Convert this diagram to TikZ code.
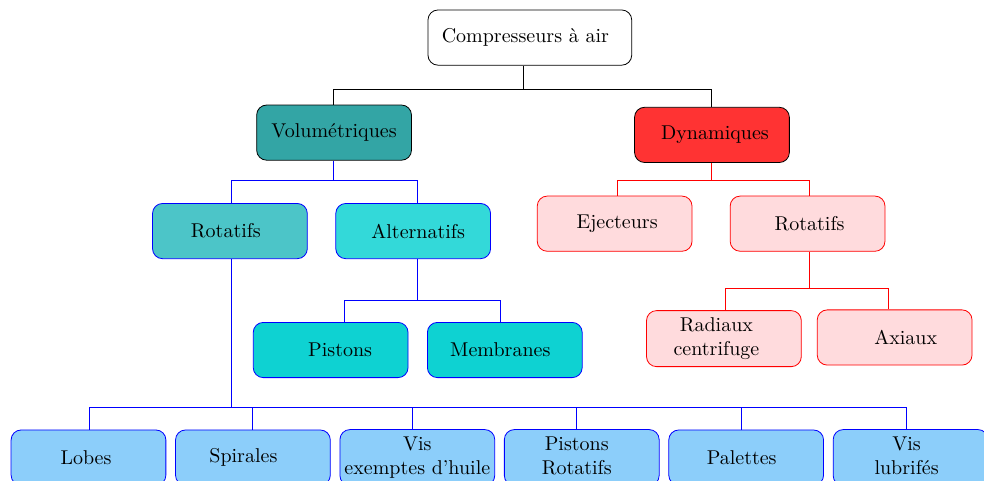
\documentclass[tikz,border=0pt]{standalone}
\usepackage{fontspec}
\definecolor{volcol}{RGB}{51,165,165}
\definecolor{rotcol}{RGB}{76,197,200}
\definecolor{altcol}{RGB}{51,217,217}
\definecolor{piscol}{RGB}{14,210,210}
\definecolor{skycol}{RGB}{140,206,250}
\definecolor{dyncol}{RGB}{255,51,51}
\definecolor{pinkcol}{RGB}{255,219,221}
\newcommand{\deuxl}[2]{\begin{tabular}{@{}c@{}}#1\\#2\end{tabular}}
\begin{document}
\begin{tikzpicture}[font=\normalsize,scale=1,declare function={dx=2.889;},
	box/.style={draw,rounded corners=5pt,minimum width=2.72cm,minimum height=0.97cm,inner sep=2pt},
	vbox/.style={box,draw=blue},
	dbox/.style={box,draw=red,fill=pinkcol},
	ts/.style={execute at begin node={\hspace*{#1pt}}}]
				\useasboundingbox (0,0) rectangle (17.29,-8.45);
				\path
				(9.31,-0.66) node[box,minimum width=3.58cm,ts=-4.5] (root) {Compresseurs à air}
				(5.87,-2.33) node[box,fill=volcol] (vol) {Volumétriques}
				(12.51,-2.37) node[box,fill=dyncol,ts=3] (dyn) {Dynamiques}
				(4.04,-4.06) node[vbox,fill=rotcol,ts=-4] (rotv) {Rotatifs}
				(7.26,-4.06) node[vbox,fill=altcol,ts=5] (alt) {Alternatifs}
				(5.81,-6.15) node[vbox,fill=piscol,ts=9.5] (pis) {Pistons}
				(8.87,-6.15) node[vbox,fill=piscol,ts=-4.5] (mem) {Membranes}
				(10.80,-3.93) node[dbox,ts=2.5] (eje) {Ejecteurs}
				(14.19,-3.93) node[dbox,ts=2] (rotd) {Rotatifs}
				(12.72,-5.95) node[dbox,ts=-7.5] (rad) {\deuxl{Radiaux}{centrifuge}}
				(15.72,-5.93) node[dbox,ts=11] (axi) {Axiaux};
				\foreach \n/\t/\s [count=\i from 0] in {lob/Lobes/-2.5,spi/Spirales/-9.5,visx/{\deuxl{Vis}{exemptes d'huile}}/0,pisr/{\deuxl{Pistons}{Rotatifs}}/-5,pal/Palettes/-4.5,visl/{\deuxl{Vis}{lubrifés}}/-4}
				\node[vbox,fill=skycol,ts=\s] (\n) at ({1.555+dx*\i},-8.04) {\t};
				% liaisons
				\draw ([xshift=-3pt]root.south) -- ++(0,-0.42) coordinate (r1);
				\draw ([xshift=-0.5pt]vol.north) |- (r1) -| ([xshift=-0.5pt]dyn.north);
				\draw[blue] ([xshift=-0.5pt]vol.south) -- ++(0,-0.35) coordinate (v1);
				\draw[blue] ([xshift=0.5pt]rotv.north) |- (v1) -| ([xshift=2pt]alt.north);
				\draw[blue] ([xshift=2pt]alt.south) -- ++(0,-0.72) coordinate (a1);
				\draw[blue] ([xshift=6.75pt]pis.north) |- (a1) -| ([xshift=-2.25pt]mem.north);
				\draw[blue] ([xshift=0.5pt]rotv.south) -- ++(0,-2.6) coordinate (b1);
				\draw[blue] ([xshift=0.25pt]lob.north) |- (b1) -| ([xshift=-2.25pt]visl.north);
				\foreach \n/\c in {spi/-0.25,visx/-2.25,pisr/-2.75,pal/-2.25}
				\draw[blue] ([xshift=\c pt]\n.north) -- ([xshift=\c pt]\n.north |- b1);
				\draw[red] ([xshift=-0.5pt]dyn.south) -- ++(0,-0.31) coordinate (d1);
				\draw[red] ([xshift=1.25pt]eje.north) |- (d1) -| ([xshift=0.75pt]rotd.north);
				\draw[red] ([xshift=0.75pt]rotd.south) -- ++(0,-0.65) coordinate (d2);
				\draw[red] ([xshift=0.75pt]rad.north) |- (d2) -| ([xshift=-3.25pt]axi.north);
			\end{tikzpicture}
\end{document}
